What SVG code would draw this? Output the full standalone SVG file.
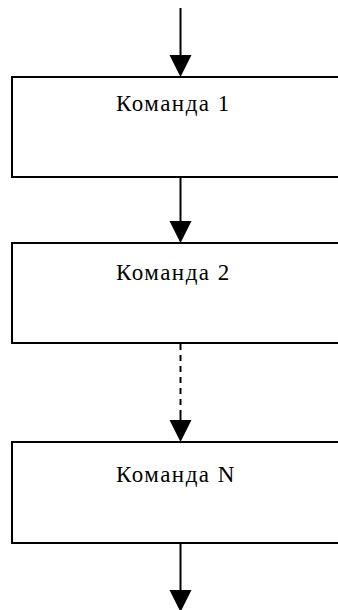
<svg xmlns="http://www.w3.org/2000/svg" width="338" height="610" viewBox="0 0 338 610">
<style>
.box{fill:#fff;stroke:#000;stroke-width:2}
.ln{stroke:#000;stroke-width:2;fill:none}
.dash{stroke-dasharray:6,5}
.lbl{font-family:"Liberation Serif","Times New Roman",serif;font-size:23px;letter-spacing:1.5px;fill:#000}
</style>
<defs>
<polygon id="ah" points="-11,0 11,0 0,22" fill="#000"/>
</defs>
<g id="connectors">
<line class="ln" x1="180.5" y1="8" x2="180.5" y2="60"/>
<use href="#ah" x="180.5" y="55"/>
<line class="ln" x1="180.5" y1="177" x2="180.5" y2="226"/>
<use href="#ah" x="180.5" y="221"/>
<line class="ln dash" x1="180.5" y1="344" x2="180.5" y2="422"/>
<line class="ln" x1="180.5" y1="416" x2="180.5" y2="425"/>
<use href="#ah" x="180.5" y="420"/>
<line class="ln" x1="180.5" y1="543" x2="180.5" y2="595"/>
<use href="#ah" x="180.5" y="590"/>
</g>
<g id="cmd1">
<rect class="box" x="12" y="77" width="340" height="100"/>
<text class="lbl" x="116" y="111">Команда 1</text>
</g>
<g id="cmd2">
<rect class="box" x="12" y="243" width="340" height="100"/>
<text class="lbl" x="116" y="280">Команда 2</text>
</g>
<g id="cmdN">
<rect class="box" x="12" y="442" width="340" height="101"/>
<text class="lbl" x="116" y="482">Команда N</text>
</g>
</svg>
